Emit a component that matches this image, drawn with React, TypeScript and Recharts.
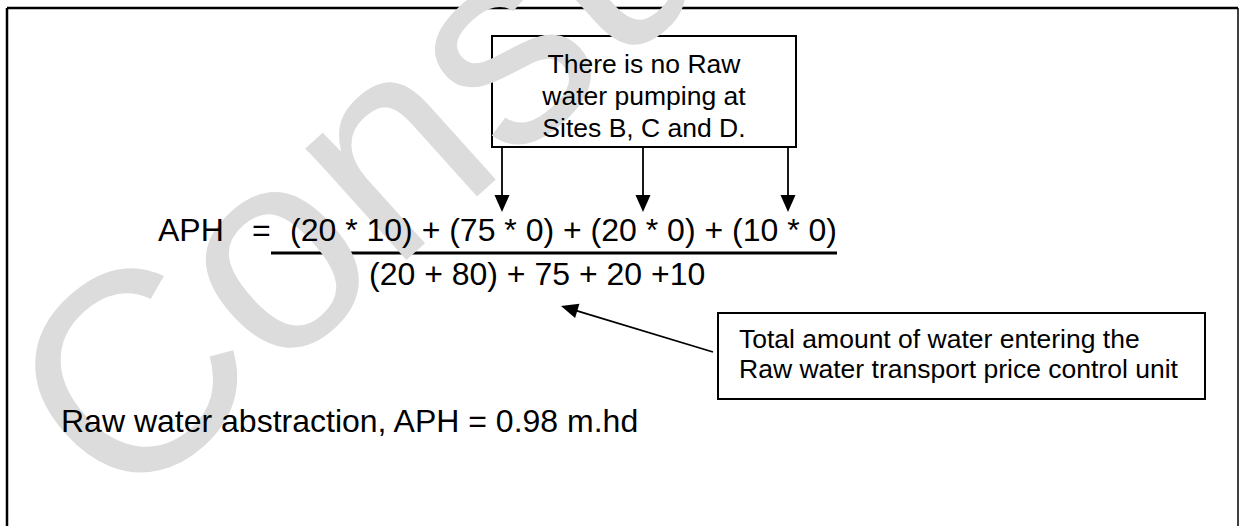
import React from 'react';
import { ComposedChart, XAxis, YAxis, Scatter, ReferenceLine, ReferenceArea } from 'recharts';

// ---------- content ----------
const watermarkWord = 'Consultation';
const noteLines = ['There is no Raw', 'water pumping at', 'Sites B, C and D.'];
const totalLines = ['Total amount of water entering the', 'Raw water transport price control unit'];
const lhsLabel = 'APH';
const equalsSign = '=';
const numeratorText = '(20 * 10) + (75 * 0) + (20 * 0) + (10 * 0)';
const denominatorText = '(20 + 80) + 75 + 20 +10';
const resultText = 'Raw water abstraction, APH = 0.98 m.hd';

// ---------- layout (diagram coordinates, 1 unit = 1 px) ----------
const W = 1241;
const H = 526;
const FONT = '"Liberation Sans", Arial, Helvetica, sans-serif';

const frameX = [7, 1238];
const frameTop = 8;
const noteBoxX = [492, 796];
const noteBoxY = [36, 147];
const noteLineY = [72.5, 104.5, 136.5];
const noteArrowX = [502, 643, 788];
const noteArrowTipY = 212;
const totalBoxX = [718, 1205];
const totalBoxY = [313, 399];
const totalLineY = [348, 378];
const pointerTail = [713, 352];
const pointerTip = [561, 306];
const underlineX = [271, 837];
const underlineY = 253;
const numeratorBaseline = 241;
const denominatorBaseline = 285;
const resultBaseline = 432;

type TextPt = { x: number; y: number; text: string; size: number; anchor: string };

const textPoints: TextPt[] = [
  ...noteLines.map((t, i) => ({ x: (noteBoxX[0] + noteBoxX[1]) / 2, y: noteLineY[i], text: t, size: 26.5, anchor: 'middle' })),
  ...totalLines.map((t, i) => ({ x: 739, y: totalLineY[i], text: t, size: 26.5, anchor: 'start' })),
  { x: 158, y: numeratorBaseline, text: lhsLabel, size: 32, anchor: 'start' },
  { x: 252, y: numeratorBaseline, text: equalsSign, size: 32, anchor: 'start' },
  { x: 290, y: numeratorBaseline, text: numeratorText, size: 32, anchor: 'start' },
  { x: 369, y: denominatorBaseline, text: denominatorText, size: 32, anchor: 'start' },
  { x: 61, y: resultBaseline, text: resultText, size: 32, anchor: 'start' },
];

const watermarkPoints = [{ x: 121, y: 517, text: watermarkWord, size: 285, angle: -42 }];

type ArrowSeg = { x: number; y: number; fx: number; fy: number };
const arrowSegs: ArrowSeg[] = [
  ...noteArrowX.map((ax) => ({ x: ax, y: noteArrowTipY, fx: ax, fy: noteBoxY[1] })),
  { x: pointerTip[0], y: pointerTip[1], fx: pointerTail[0], fy: pointerTail[1] },
];

const HEAD_LEN = 17;
const HEAD_W = 15;

const headBase = (s: ArrowSeg) => {
  const dx = s.x - s.fx;
  const dy = s.y - s.fy;
  const len = Math.hypot(dx, dy);
  return { x: s.x - (dx / len) * (HEAD_LEN - 2), y: s.y - (dy / len) * (HEAD_LEN - 2) };
};

const TextShape = (props: any) => {
  const { cx, cy, payload } = props;
  return (
    <text x={cx} y={cy} fontFamily={FONT} fontSize={payload.size} fill="#000" textAnchor={payload.anchor}>
      {payload.text}
    </text>
  );
};

const WatermarkShape = (props: any) => {
  const { cx, cy, payload } = props;
  return (
    <text
      x={cx}
      y={cy}
      fontFamily={FONT}
      fontSize={payload.size}
      fill="#dcdcdc"
      transform={`rotate(${payload.angle} ${cx} ${cy})`}
    >
      {payload.text}
    </text>
  );
};

const HeadShape = (props: any) => {
  const { cx, cy, payload } = props;
  const ang = (Math.atan2(payload.y - payload.fy, payload.x - payload.fx) * 180) / Math.PI;
  return (
    <polygon
      points={`0,0 ${-HEAD_LEN},${-HEAD_W / 2} ${-HEAD_LEN},${HEAD_W / 2}`}
      fill="#000"
      transform={`translate(${cx} ${cy}) rotate(${ang})`}
    />
  );
};

export default function App() {
  return (
    <div style={{ position: 'absolute', left: 0, top: 0, width: W, height: H, background: '#fff' }}>
      <ComposedChart width={W} height={H} margin={{ top: 0, right: 0, bottom: 0, left: 0 }} data={[]}>
        <XAxis type="number" dataKey="x" domain={[0, W]} hide allowDataOverflow />
        <YAxis type="number" dataKey="y" domain={[0, H]} reversed hide allowDataOverflow />
        <Scatter data={watermarkPoints} shape={WatermarkShape} isAnimationActive={false} />
        <ReferenceLine segment={[{ x: frameX[0], y: frameTop }, { x: frameX[1], y: frameTop }]} stroke="#000" strokeWidth={2.5} ifOverflow="visible" />
        <ReferenceLine segment={[{ x: frameX[0], y: frameTop }, { x: frameX[0], y: H }]} stroke="#000" strokeWidth={2.5} ifOverflow="visible" />
        <ReferenceLine segment={[{ x: frameX[1], y: frameTop }, { x: frameX[1], y: H }]} stroke="#000" strokeWidth={1.5} ifOverflow="visible" />
        <ReferenceArea x1={noteBoxX[0]} x2={noteBoxX[1]} y1={noteBoxY[0]} y2={noteBoxY[1]} fill="#fff" fillOpacity={1} stroke="#000" strokeWidth={2} />
        <ReferenceArea x1={totalBoxX[0]} x2={totalBoxX[1]} y1={totalBoxY[0]} y2={totalBoxY[1]} fill="#fff" fillOpacity={1} stroke="#000" strokeWidth={2} />
        {arrowSegs.map((s, i) => {
          const b = headBase(s);
          return (
            <ReferenceLine key={`a${i}`} segment={[{ x: s.fx, y: s.fy }, { x: b.x, y: b.y }]} stroke="#000" strokeWidth={1.8} ifOverflow="visible" />
          );
        })}
        <ReferenceLine segment={[{ x: underlineX[0], y: underlineY }, { x: underlineX[1], y: underlineY }]} stroke="#000" strokeWidth={3} ifOverflow="visible" />
        <Scatter data={arrowSegs} shape={HeadShape} isAnimationActive={false} />
        <Scatter data={textPoints} shape={TextShape} isAnimationActive={false} />
      </ComposedChart>
    </div>
  );
}
